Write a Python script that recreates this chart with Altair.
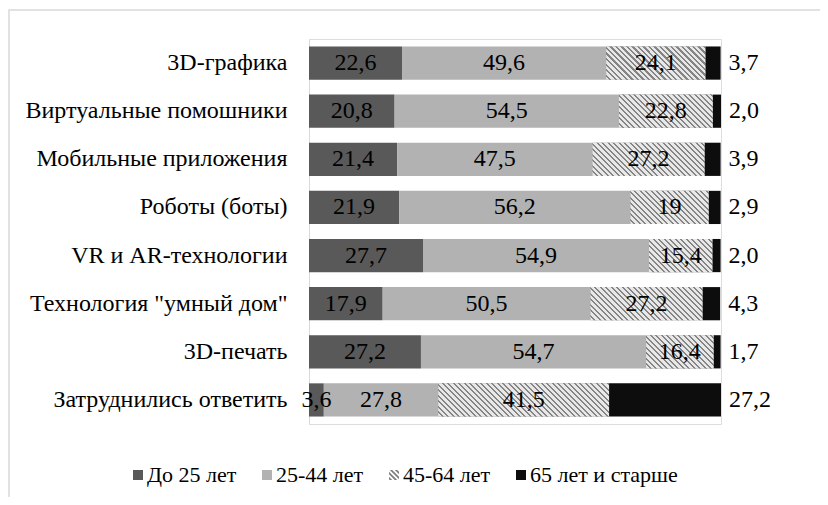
import altair as alt
import pandas as pd

categories = ["3D-графика", "Виртуальные помошники", "Мобильные приложения",
              "Роботы (боты)", "VR и AR-технологии", 'Технология "умный дом"',
              "3D-печать", "Затруднились ответить"]
ages = ["До 25 лет", "25-44 лет", "45-64 лет", "65 лет и старше"]
under25 = [22.6, 20.8, 21.4, 21.9, 27.7, 17.9, 27.2, 3.6]
age25_44 = [49.6, 54.5, 47.5, 56.2, 54.9, 50.5, 54.7, 27.8]
age45_64 = [24.1, 22.8, 27.2, 19, 15.4, 27.2, 16.4, 41.5]
age65plus = [3.7, 2.0, 3.9, 2.9, 2.0, 4.3, 1.7, 27.2]

colors = ["#595959", "#b2b2b2", "#7f7f7f", "#0d0d0d"]
FONT = "Liberation Serif"
FS = 24
LEG_FS = 22
PLOT_W, PLOT_H = 412, 385
XMAX = 100.1
PAD_INNER = 0.31
TOTAL_W, TOTAL_H = 812, 489
PAD_L, PAD_T = 301, 31

series = [under25, age25_44, age45_64, age65plus]
rows = []
for i, cat in enumerate(categories):
    for j, age in enumerate(ages):
        v = series[j][i]
        lab = str(v).replace(".", ",")
        rows.append({"cat": cat, "age": age, "value": v, "label": lab,
                     "row": i, "order": j})
df = pd.DataFrame(rows)


# ---- hatch styling (diagonal stripes) via linear gradients ----
def hatch(W, H, period=5.5, frac=0.38, dark="#858585", light="#e8e8e8"):
    t = (W + H) / (W * W + H * H)
    n = (W + H) / period
    stops = []
    k = 0
    while k / n < 1:
        a = k / n
        b = min((k + 1 - frac) / n, 1)
        c = min((k + 1) / n, 1)
        stops += [{"offset": round(a, 4), "color": light},
                  {"offset": round(b, 4), "color": light},
                  {"offset": round(b, 4), "color": dark},
                  {"offset": round(c, 4), "color": dark}]
        k += 1
    return {"gradient": "linear", "x1": 0, "y1": 1,
            "x2": round(t * W, 4), "y2": round(1 - t * H, 4), "stops": stops}


bar_h = PLOT_H / len(categories) * (1 - PAD_INNER)
conds = []
for i, v in enumerate(age45_64):
    W = v * PLOT_W / XMAX
    conds.append({"test": f"datum.row === {i}", "value": hatch(W, bar_h)})


# ---- hatched legend symbol path ----
def clip(poly, f):
    out = []
    n = len(poly)
    for k in range(n):
        p, q = poly[k], poly[(k + 1) % n]
        fp, fq = f(p), f(q)
        if fp >= 0:
            out.append(p)
        if (fp >= 0) != (fq >= 0):
            tt = fp / (fp - fq)
            out.append((p[0] + tt * (q[0] - p[0]), p[1] + tt * (q[1] - p[1])))
    return out


square = [(-1, -1), (1, -1), (1, 1), (-1, 1)]
parts = []
u0 = -2.0 + 0.15
while u0 < 2:
    lo, hi = u0, u0 + 0.5
    poly = clip(square, lambda p, lo=lo: (p[0] - p[1]) - lo)
    poly = clip(poly, lambda p, hi=hi: hi - (p[0] - p[1]))
    if len(poly) >= 3:
        parts.append("M" + "L".join(f"{x:.3f},{y:.3f}" for x, y in poly) + "Z")
    u0 += 1.0
hatch_path = "".join(parts)
sq_path = "M-1,-1L1,-1L1,1L-1,1Z"
shapes = [sq_path, sq_path, hatch_path, sq_path]

base = alt.Chart(df).transform_stack(
    stack="value", as_=["x0", "x1"], groupby=["cat"],
    sort=[alt.SortField("order", order="ascending")]
).transform_calculate(mid="(datum.x0 + datum.x1) / 2")

xscale = alt.Scale(domain=[0, XMAX], nice=False, zero=True)
yenc = alt.Y("cat:N", sort=categories,
             scale=alt.Scale(paddingInner=PAD_INNER, paddingOuter=PAD_INNER / 2),
             axis=alt.Axis(title=None, ticks=False, tickSize=0, labelPadding=22,
                           domainColor="#d9d9d9", domainWidth=1, labelFont=FONT,
                           labelFontSize=FS, labelColor="#000000", labelLimit=400,
                           grid=False))

frame = alt.Chart(alt.Data(values=[{}])).mark_rect(
    fill="transparent", stroke="#d9d9d9", strokeWidth=1.5
).encode(x=alt.value(1 - PAD_L), x2=alt.value(700),
         y=alt.value(10 - 8 - PAD_T), y2=alt.value(700))

leg = alt.Legend(title=None, orient="none", legendX=-182, legendY=425,
                 direction="horizontal", labelFont=FONT, labelFontSize=LEG_FS,
                 labelColor="#000000", symbolSize=100,
                 labelOffset=alt.ExprRef(expr="-2"),
                 columnPadding=19, symbolStrokeWidth=0, labelLimit=400)

# invisible carrier points (hidden under the bars of the last row) for the legend
legend_pts = base.transform_filter("datum.row === 7").mark_point(
    filled=True, opacity=1, size=100
).encode(
    x=alt.X("mid:Q", scale=xscale, axis=None),
    y=yenc,
    color=alt.Color("age:N", scale=alt.Scale(domain=ages, range=colors), legend=leg),
    shape=alt.Shape("age:N", scale=alt.Scale(domain=ages, range=shapes), legend=leg),
)

bars = base.mark_bar().encode(
    x=alt.X("x0:Q", scale=xscale, axis=None),
    x2="x1:Q",
    y=yenc,
    color=alt.Color("age:N", scale=alt.Scale(domain=ages, range=colors), legend=leg),
)

hatched = base.transform_filter("datum.order === 2").mark_bar().encode(
    x=alt.X("x0:Q", scale=xscale, axis=None),
    x2="x1:Q",
    y=yenc,
    fill={"condition": conds, "value": "#bbbbbb"},
)

inner = base.transform_filter("datum.order < 3").mark_text(
    font=FONT, fontSize=FS, color="#000000", align="center", baseline="middle"
).encode(x=alt.X("mid:Q", scale=xscale, axis=None), y=yenc, text="label:N")

outer = base.transform_filter("datum.order === 3").mark_text(
    font=FONT, fontSize=FS, color="#000000", align="left", baseline="middle", dx=8
).encode(x=alt.X("x1:Q", scale=xscale, axis=None), y=yenc, text="label:N")

chart = alt.layer(frame, legend_pts, bars, hatched, inner, outer).properties(
    width=PLOT_W, height=PLOT_H,
    autosize=alt.AutoSizeParams(type="none"),
    padding={"left": PAD_L, "top": PAD_T, "right": TOTAL_W - PAD_L - PLOT_W,
             "bottom": TOTAL_H - PAD_T - PLOT_H},
    background="white",
).configure_view(stroke=None).configure_legend(
    labelFont=FONT, labelFontSize=LEG_FS, labelColor="#000000", symbolSize=100,
    labelLimit=400
).configure(font=FONT)

chart.save("out.html", embed_options={"renderer": "svg", "actions": False})
